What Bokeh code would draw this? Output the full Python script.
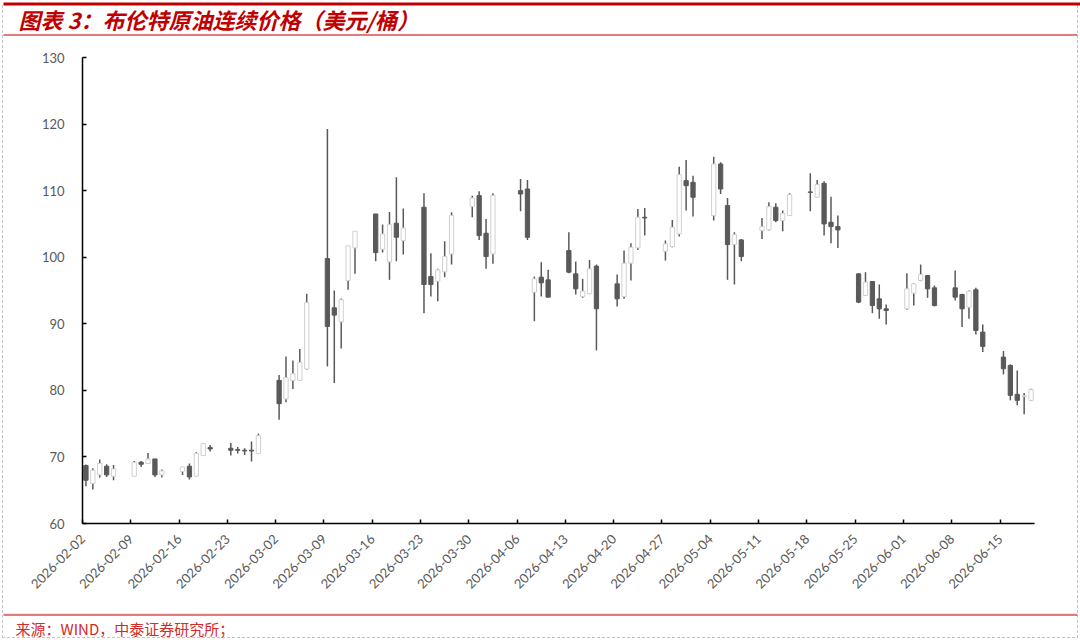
import math
import pandas as pd
from bokeh.plotting import figure
from bokeh.layouts import column
from bokeh.models import ColumnDataSource, FixedTicker, Range1d
from bokeh.core.properties import value
from bokeh.embed import file_html
from bokeh.resources import INLINE

# ---------------- data ----------------
dates = [
    "2026-02-02", "2026-02-03", "2026-02-04", "2026-02-05", "2026-02-06",
    "2026-02-09", "2026-02-10", "2026-02-11", "2026-02-12", "2026-02-13",
    "2026-02-16", "2026-02-17", "2026-02-18", "2026-02-19", "2026-02-20",
    "2026-02-23", "2026-02-24", "2026-02-25", "2026-02-26", "2026-02-27",
    "2026-03-02", "2026-03-03", "2026-03-04", "2026-03-05", "2026-03-06",
    "2026-03-09", "2026-03-10", "2026-03-11", "2026-03-12", "2026-03-13",
    "2026-03-16", "2026-03-17", "2026-03-18", "2026-03-19", "2026-03-20",
    "2026-03-23", "2026-03-24", "2026-03-25", "2026-03-26", "2026-03-27",
    "2026-03-30", "2026-03-31", "2026-04-01", "2026-04-02",
    "2026-04-06", "2026-04-07", "2026-04-08", "2026-04-09", "2026-04-10",
    "2026-04-13", "2026-04-14", "2026-04-15", "2026-04-16", "2026-04-17",
    "2026-04-20", "2026-04-21", "2026-04-22", "2026-04-23", "2026-04-24",
    "2026-04-27", "2026-04-28", "2026-04-29", "2026-04-30", "2026-05-01",
    "2026-05-04", "2026-05-05", "2026-05-06", "2026-05-07", "2026-05-08",
    "2026-05-11", "2026-05-12", "2026-05-13", "2026-05-14", "2026-05-15",
    "2026-05-18", "2026-05-19", "2026-05-20", "2026-05-21", "2026-05-22",
    "2026-05-25", "2026-05-26", "2026-05-27", "2026-05-28", "2026-05-29",
    "2026-06-01", "2026-06-02", "2026-06-03", "2026-06-04", "2026-06-05",
    "2026-06-08", "2026-06-09", "2026-06-10", "2026-06-11", "2026-06-12",
    "2026-06-15", "2026-06-16", "2026-06-17", "2026-06-18", "2026-06-19",
]

opens = [
    68.7, 66.0, 67.3, 68.6, 67.1,
    67.1, 69.2, 69.0, 69.7, 67.3,
    67.8, 68.6, 67.1, 70.2, 71.4,
    71.3, 71.1, 71.0, 71.0, 70.5,
    81.5, 78.7, 81.5, 81.5, 83.2,
    99.8, 92.4, 90.3, 96.5, 101.4,
    106.5, 101.2, 99.3, 105.1, 102.5,
    107.5, 97.1, 96.4, 97.8, 100.5,
    107.6, 109.25, 103.6, 100.5,
    110.0, 110.25, 94.75, 97.0, 96.6,
    101.0, 97.5, 94.1, 94.5, 98.65,
    96.0, 94.1, 99.1, 101.4, 106.0,
    100.9, 101.6, 103.5, 111.5, 111.25,
    106.25, 114.0, 107.75, 101.9, 102.6,
    104.0, 104.1, 107.5, 105.5, 106.25,
    109.8, 109.0, 111.1, 105.25, 104.6,
    97.5, 94.25, 96.35, 93.75, 92.25,
    92.25, 94.6, 96.5, 97.25, 95.4,
    95.4, 94.4, 92.5, 95.1, 88.75,
    85.0, 83.75, 79.4, 79.05, 78.5,
]

highs = [
    68.85, 68.3, 69.6, 68.9, 68.8,
    69.4, 69.4, 70.6, 69.7, 68.1,
    68.5, 69.0, 70.7, 72.1, 71.8,
    72.1, 71.5, 71.3, 72.3, 73.5,
    82.3, 85.1, 84.5, 86.2, 94.5,
    119.25, 95.0, 93.8, 101.7, 103.9,
    106.5, 104.9, 106.8, 112.0, 107.3,
    109.6, 100.6, 98.25, 102.4, 106.75,
    109.25, 109.9, 105.75, 109.6,
    111.75, 111.6, 97.1, 99.25, 98.1,
    103.75, 99.35, 96.75, 99.6, 98.9,
    97.4, 101.0, 102.1, 107.25, 107.4,
    102.5, 105.6, 113.6, 114.6, 112.25,
    115.1, 114.25, 108.9, 103.75, 102.75,
    105.9, 108.25, 108.1, 107.0, 109.6,
    112.6, 111.6, 111.4, 109.1, 106.25,
    97.6, 97.75, 96.35, 95.9, 92.9,
    97.6, 96.1, 98.9, 97.25, 95.75,
    98.0, 94.5, 95.0, 95.4, 89.9,
    85.9, 83.9, 83.0, 79.6, 80.25,
]

lows = [
    65.6, 65.1, 66.9, 67.0, 66.5,
    67.1, 68.5, 69.0, 67.0, 66.9,
    67.3, 66.6, 67.1, 70.2, 70.8,
    70.2, 70.5, 70.3, 69.3, 70.5,
    75.6, 78.2, 80.2, 81.5, 83.1,
    83.6, 81.1, 86.3, 95.1, 97.5,
    99.4, 100.7, 96.6, 99.4, 100.4,
    91.6, 94.1, 93.4, 97.0, 98.9,
    106.0, 102.6, 98.25, 99.0,
    106.9, 102.6, 90.4, 94.1, 94.0,
    97.6, 94.4, 93.9, 94.5, 86.0,
    92.6, 93.75, 96.5, 101.1, 103.25,
    99.5, 101.5, 103.1, 107.0, 106.1,
    105.5, 109.5, 96.6, 95.9, 99.4,
    102.75, 104.0, 105.25, 103.9, 106.25,
    106.9, 109.0, 103.25, 102.1, 101.4,
    93.1, 94.25, 91.6, 90.75, 89.9,
    92.1, 92.75, 96.4, 93.9, 92.6,
    93.5, 89.5, 90.75, 88.4, 85.75,
    82.4, 78.5, 77.75, 76.4, 78.4,
]

closes = [
    66.5, 68.0, 69.0, 67.3, 68.2,
    69.2, 68.9, 69.7, 67.3, 67.9,
    68.5, 67.0, 70.5, 72.0, 71.2,
    71.0, 71.0, 70.9, 70.9, 73.2,
    78.0, 81.9, 82.5, 84.2, 93.2,
    89.6, 91.3, 93.6, 101.7, 103.9,
    100.7, 103.5, 104.9, 103.0, 104.4,
    95.9, 95.9, 98.1, 100.1, 106.25,
    108.9, 103.25, 100.1, 109.25,
    109.5, 103.0, 96.75, 96.15, 94.0,
    97.75, 95.25, 94.9, 98.25, 92.25,
    93.75, 99.1, 101.5, 106.0, 105.9,
    102.0, 104.5, 112.4, 110.75, 109.0,
    114.0, 110.25, 101.9, 103.4, 100.1,
    104.6, 107.6, 105.5, 106.6, 109.4,
    109.75, 110.9, 105.0, 104.6, 104.1,
    93.25, 96.25, 92.75, 92.25, 92.0,
    95.25, 96.0, 97.4, 95.25, 92.75,
    94.0, 92.25, 94.9, 89.0, 86.6,
    83.25, 79.25, 78.5, 79.2, 80.1,
]

tick_dates = [
    "2026-02-02", "2026-02-09", "2026-02-16", "2026-02-23", "2026-03-02",
    "2026-03-09", "2026-03-16", "2026-03-23", "2026-03-30", "2026-04-06",
    "2026-04-13", "2026-04-20", "2026-04-27", "2026-05-04", "2026-05-11",
    "2026-05-18", "2026-05-25", "2026-06-01", "2026-06-08", "2026-06-15",
]
axis_end_date = "2026-06-20"
y_ticks = [60, 70, 80, 90, 100, 110, 120, 130]

title_text = "图表 3：布伦特原油连续价格（美元/桶）"
source_text = "来源：WIND，中泰证券研究所；"

# ---------------- layout constants (px) ----------------
W = 1080
HEAD_H = 45      # header strip: top red rule, title, underline
FOOT_H = 29      # footer strip: red rule, source note
MAIN_H = 642 - HEAD_H - FOOT_H
FRAME_TOP = 57 - HEAD_H
FRAME_H = 466


def strip(height):
    f = figure(width=W, height=height, output_backend="svg", toolbar_location=None,
               x_range=Range1d(0, W), y_range=Range1d(height, 0),
               x_axis_location=None, y_axis_location=None, title=None,
               min_border=0, outline_line_color=None, frame_align=False,
               background_fill_color=None, border_fill_color=None)
    f.xgrid.visible = False
    f.ygrid.visible = False
    return f


# ---------------- header ----------------
head = strip(HEAD_H)
head.quad(left=[3], right=[W], top=[2], bottom=[5], fill_color="#c00000", line_color=None)
head.quad(left=[3], right=[W - 3], top=[33.5], bottom=[35.5], fill_color="#e27c7c", line_color=None)
head.text(x=[18], y=[18.5], text=[title_text], text_font=value("Noto Sans CJK SC"),
          text_font_size="22px", text_font_style="bold italic", text_color="#c00000",
          text_baseline="middle", text_align="left")

# ---------------- main chart ----------------
origin = pd.Timestamp(tick_dates[0])
day_pos = [(pd.Timestamp(d) - origin).days + 0.5 for d in dates]
tick_pos = [(pd.Timestamp(d) - origin).days for d in tick_dates]
x_end = (pd.Timestamp(axis_end_date) - origin).days

df = pd.DataFrame(dict(x=day_pos, open=opens, high=highs, low=lows, close=closes))
df["top"] = df[["open", "close"]].max(axis=1)
df["bottom"] = df[["open", "close"]].min(axis=1)
up = df[df.close >= df.open]
down = df[df.close < df.open]

DARK = "#595959"
LIGHT_LINE = "#d0d0d0"

p = figure(
    width=W, height=MAIN_H,
    output_backend="svg", toolbar_location=None, title=None,
    x_range=Range1d(0, x_end), y_range=Range1d(60, 130),
    min_border_left=82, min_border_right=46,
    min_border_top=FRAME_TOP, min_border_bottom=MAIN_H - FRAME_TOP - FRAME_H,
    background_fill_color="white", border_fill_color=None,
    outline_line_color=None, frame_align=False,
)
p.xgrid.visible = False
p.ygrid.visible = False

p.segment(x0="x", y0="high", x1="x", y1="low", source=ColumnDataSource(df),
          line_color=DARK, line_width=1.5)
p.vbar(x="x", top="top", bottom="bottom", width=0.62, source=ColumnDataSource(down),
       fill_color=DARK, line_color=DARK, line_width=1)
p.vbar(x="x", top="top", bottom="bottom", width=0.62, source=ColumnDataSource(up),
       fill_color="white", line_color=LIGHT_LINE, line_width=1)

for ax in (p.xaxis[0], p.yaxis[0]):
    ax.axis_line_color = "black"
    ax.axis_line_width = 1.5
    ax.major_tick_line_color = "black"
    ax.major_tick_line_width = 1.5
    ax.major_tick_in = 4
    ax.major_tick_out = 0
    ax.minor_tick_line_color = None
    ax.major_label_text_font = "Lato"
    ax.major_label_text_font_size = "13px"
    ax.major_label_text_color = "#595959"

p.yaxis[0].ticker = FixedTicker(ticks=y_ticks)
p.yaxis[0].major_label_standoff = 18

p.xaxis[0].ticker = FixedTicker(ticks=tick_pos)
p.xaxis[0].major_label_overrides = {t: s for t, s in zip(tick_pos, tick_dates)}
p.xaxis[0].major_label_orientation = math.pi / 4
p.xaxis[0].major_label_standoff = 13

# ---------------- footer ----------------
foot = strip(FOOT_H)
foot.quad(left=[3], right=[W - 3], top=[0], bottom=[2.5], fill_color="#e27c7c", line_color=None)
foot.text(x=[15], y=[14.5], text=[source_text], text_font=value("Noto Sans CJK SC"),
          text_font_size="15px", text_color="#d42a2a",
          text_baseline="middle", text_align="left")

# dashed page frame (left, right, bottom) painted behind the transparent canvases
frame_styles = {
    "background-image": ", ".join([
        "repeating-linear-gradient(to bottom, #c4c4c4 0px, #c4c4c4 3px, transparent 3px, transparent 5px)",
        "repeating-linear-gradient(to bottom, #c4c4c4 0px, #c4c4c4 3px, transparent 3px, transparent 5px)",
        "repeating-linear-gradient(to right, #c4c4c4 0px, #c4c4c4 3px, transparent 3px, transparent 5px)",
    ]),
    "background-size": "1px 632px, 1px 632px, 1076px 1px",
    "background-position": "2px 5px, 1077px 5px, 2px 637px",
    "background-repeat": "no-repeat",
    "background-color": "white",
}

page = column(head, p, foot, spacing=0, styles=frame_styles)

open("out.html", "w").write(file_html(page, INLINE))
